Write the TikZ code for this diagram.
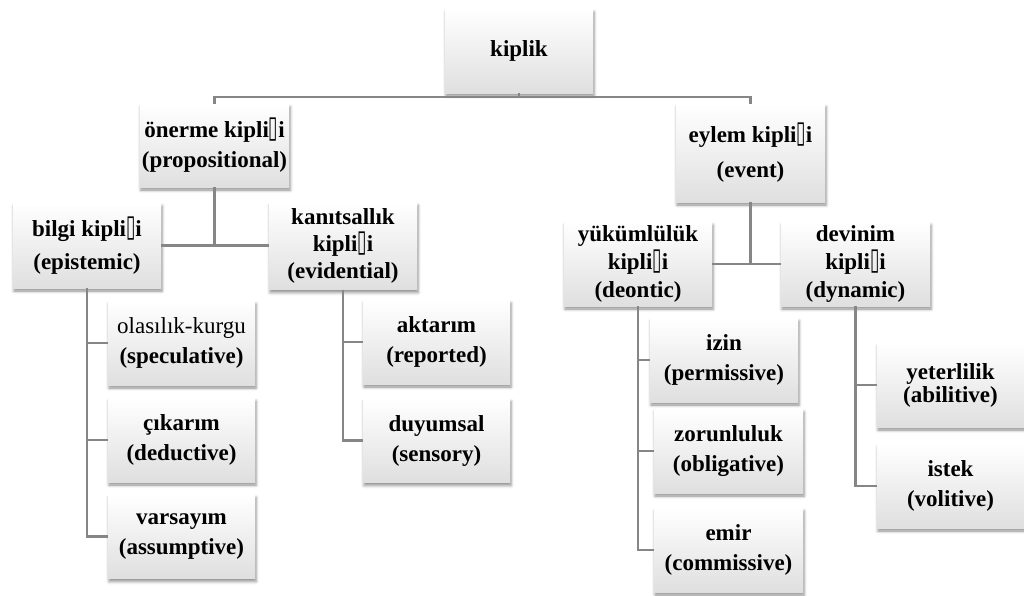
\documentclass[tikz,border=0pt]{standalone}
\usepackage{fontspec}
\setmainfont{Liberation Serif}
\newfontfamily\symfont{DejaVu Sans}
\usepackage{tikz}
\usetikzlibrary{shadows.blur}
\newcommand{\gch}{\scalebox{1}[1.8]{\symfont\mdseries\fontsize{17}{17}\selectfont ▯}}
\tikzset{
    kbox/.style={shape=rectangle, top color=white, bottom color=gray!25,
        minimum width=148pt, minimum height=84pt, inner sep=2pt, align=center,
        font=\fontsize{23}{30}\selectfont\bfseries,
        blur shadow={shadow xshift=1pt, shadow yshift=-3pt,
            shadow blur radius=3pt, shadow opacity=45}},
    link/.style={draw=gray!95, line width=2.5pt},
}

\begin{document}
\begin{tikzpicture}[x=1pt, y=-1pt]
\useasboundingbox (0,0) rectangle (1024,595);
% top level
\node[kbox] (kiplik) at (519,51) {kiplik};
\node[kbox, minimum width=147pt, minimum height=83pt] (oner) at (214.5,145.5) {önerme kipli\gch i\\(propositional)};
\node[kbox, minimum width=149pt, minimum height=98pt] (eylem) at (750.5,153) {eylem kipli\gch i\\[5pt](event)};
% second level
\node[kbox, minimum height=85pt] (bilgi) at (87,245.5) {bilgi kipli\gch i\\[3pt](epistemic)};
\node[kbox, minimum height=87pt, font=\fontsize{23}{27}\selectfont\bfseries] (kanit) at (343,246) {kanıtsallık\\kipli\gch i\\(evidential)};
\node[kbox, font=\fontsize{23}{28}\selectfont\bfseries] (yukum) at (638,264) {yükümlülük\\kipli\gch i\\(deontic)};
\node[kbox, minimum width=149pt, font=\fontsize{23}{28}\selectfont\bfseries] (devin) at (855.5,264) {devinim\\kipli\gch i\\(dynamic)};
% leaves
\node[kbox, minimum width=147pt] (olas) at (181.5,343) {{\mdseries olasılık-kurgu}\\(speculative)};
\node[kbox, minimum width=147pt] (cikar) at (181.5,440) {çıkarım\\(deductive)};
\node[kbox, minimum width=147pt] (varsa) at (181.5,536.5) {varsayım\\(assumptive)};
\node[kbox, minimum width=147pt] (aktar) at (436.5,342) {aktarım\\(reported)};
\node[kbox, minimum width=147pt] (duyum) at (436.5,440.5) {duyumsal\\(sensory)};
\node[kbox] (izin) at (724,360) {izin\\(permissive)};
\node[kbox, minimum width=149pt] (zorun) at (728.5,451) {zorunluluk\\(obligative)};
\node[kbox, minimum width=149pt] (emir) at (728.5,550) {emir\\(commissive)};
\node[kbox, minimum width=147pt, font=\fontsize{23}{23}\selectfont\bfseries] (yeter) at (950.5,385) {yeterlilik\\(abilitive)};
\node[kbox, minimum width=147pt] (istek) at (950.5,486) {istek\\(volitive)};
% connectors
\coordinate (top) at (519,97);
\draw[link] (kiplik.south) -- (top);
\draw[link] (oner.north) |- (top) -| (eylem.north);
\draw[link] (oner.south) -- (oner.south |- bilgi.east);
\draw[link] (bilgi.east) -- (bilgi.east -| kanit.west);
\draw[link] (eylem.south) -- (eylem.south |- yukum.east);
\draw[link] (yukum.east) -- (devin.west);
\draw[link] (bilgi.south) |- (olas.west);
\draw[link] (bilgi.south) |- (cikar.west);
\draw[link] (bilgi.south) |- (varsa.west);
\draw[link] (kanit.south) |- (aktar.west);
\draw[link] (kanit.south) |- (duyum.west);
\draw[link] (yukum.south) |- (izin.west);
\draw[link] (yukum.south) |- (zorun.west);
\draw[link] (yukum.south) |- (emir.west);
\draw[link] (devin.south) |- (yeter.west);
\draw[link] (devin.south) |- (istek.west);
\end{tikzpicture}
\end{document}
